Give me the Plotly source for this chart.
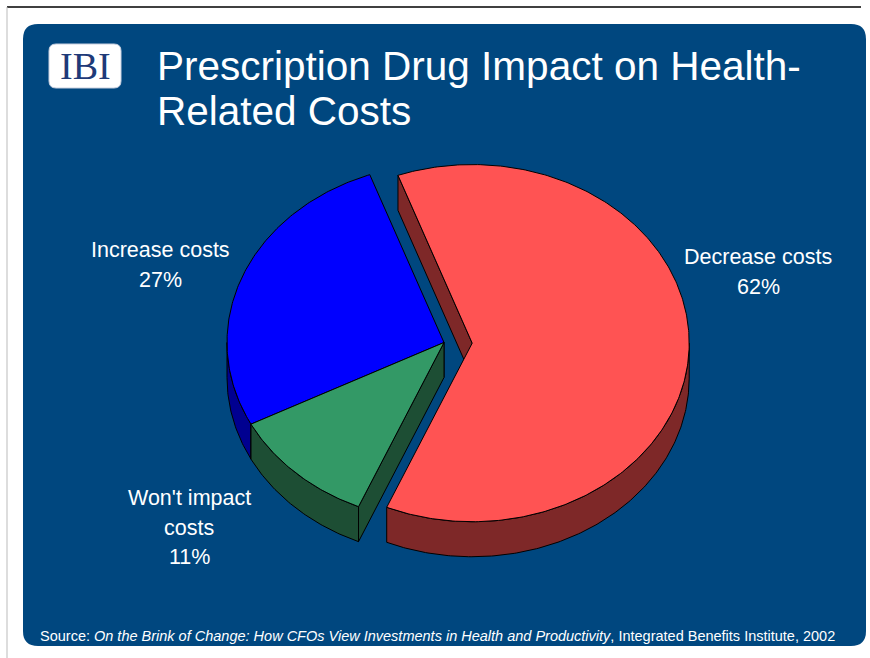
import numpy as np
import plotly.graph_objects as go

# ---- data ----
categories = ["Decrease costs", "Won't impact<br>costs", "Increase costs"]
values = [62, 11, 27]
pulls = [0.13, 0.0, 0.0]
top_colors = ["#FF5353", "#339966", "#0000FF"]
side_colors = ["#7E2828", "#1D4E34", "#000090"]
title_lines = ["Prescription Drug Impact on Health-", "Related Costs"]
source_regular = "Source: "
source_italic = "On the Brink of Change: How CFOs View Investments in Health and Productivity"
source_tail = ", Integrated Benefits Institute, 2002"

# ---- pie geometry (pixel space) ----
CX, CY = 444.0, 342.5
RX, RY = 217.0, 178.6
DEPTH = 35.0
START = 110.0

W, H = 870, 658
BG = "#00477F"

fig = go.Figure()


def pt(cx, cy, t, dy=0.0):
    r = np.radians(t)
    return cx + RX * np.cos(r), cy - RY * np.sin(r) + dy


def arc(cx, cy, a, b, dy=0.0, n=None):
    n = n or max(4, int(abs(b - a) * 1.5))
    ts = np.linspace(a, b, n)
    r = np.radians(ts)
    return list(cx + RX * np.cos(r)), list(cy - RY * np.sin(r) + dy)


def poly(xs, ys, color):
    fig.add_trace(go.Scatter(x=xs + [xs[0]], y=ys + [ys[0]], mode="lines",
                             fill="toself", fillcolor=color,
                             line=dict(color="black", width=1),
                             hoverinfo="skip", showlegend=False))


total = float(sum(values))
slices = []
cum = 0.0
for i, v in enumerate(values):
    t_start = START - cum / total * 360.0
    t_end = t_start - v / total * 360.0
    cum += v
    a, b = t_end, t_start  # ccw range
    mid = np.radians((a + b) / 2)
    cx = CX + pulls[i] * RX * np.cos(mid)
    cy = CY - pulls[i] * RY * np.sin(mid)
    slices.append((i, a, b, cx, cy))

# draw order: back to front
for i, a, b, cx, cy in [slices[2], slices[1], slices[0]]:
    # outer visible side (sin<0 region)
    for k in range(-2, 2):
        lo, hi = 180 + 360 * k, 360 + 360 * k
        s, e = max(a, lo), min(b, hi)
        if e > s:
            xt, yt = arc(cx, cy, s, e)
            xb, yb = arc(cx, cy, e, s, DEPTH)
            poly(xt + xb, yt + yb, side_colors[i])
    # radial faces
    for ang, vis in ((b, np.cos(np.radians(b)) < 0), (a, np.cos(np.radians(a)) > 0)):
        if vis:
            ex, ey = pt(cx, cy, ang)
            poly([cx, ex, ex, cx], [cy, ey, ey + DEPTH, cy + DEPTH], side_colors[i])
    # top surface
    xt, yt = arc(cx, cy, a, b)
    poly([cx] + xt, [cy] + yt, top_colors[i])

# ---- labels ----
label_pos = [(758, 257), (189, 498), (160, 250)]
annotations = []
LSP = 29.5
for i, (lx, ly) in enumerate(label_pos):
    lines = categories[i].split("<br>") + [f"{values[i]}%"]
    for j, ln in enumerate(lines):
        annotations.append(dict(x=lx, y=ly + j * LSP, xref="x", yref="y", text=ln,
                                showarrow=False, xanchor="center", yanchor="middle",
                                font=dict(family="Liberation Sans, Arial", size=21.5, color="white")))

# title
title_y = [66, 111]
for j, ln in enumerate(title_lines):
    annotations.append(dict(x=155, y=title_y[j], xref="x", yref="y", text=ln,
                            showarrow=False, xanchor="left", yanchor="middle",
                            font=dict(family="Liberation Sans, Arial", size=40.5, color="white")))

# logo text
annotations.append(dict(x=85, y=66, xref="x", yref="y", text="IBI", showarrow=False,
                        xanchor="center", yanchor="middle",
                        font=dict(family="Liberation Serif, Times New Roman", size=38, color="#1E3A78")))

# source
annotations.append(dict(x=437, y=636, xref="x", yref="y",
                        text=f"{source_regular}<i>{source_italic}</i>{source_tail}",
                        showarrow=False, xanchor="center", yanchor="middle",
                        font=dict(family="Liberation Sans, Arial", size=14.5, color="white")))


def rrect(x0, y0, x1, y1, r):
    return (f"M {x0+r},{y0} L {x1-r},{y0} Q {x1},{y0} {x1},{y0+r} L {x1},{y1-r} "
            f"Q {x1},{y1} {x1-r},{y1} L {x0+r},{y1} Q {x0},{y1} {x0},{y1-r} "
            f"L {x0},{y0+r} Q {x0},{y0} {x0+r},{y0} Z")


shapes = [
    dict(type="path", path=rrect(23, 24, 866, 646, 15), xref="x", yref="y",
         fillcolor=BG, line=dict(width=0), layer="below"),
    dict(type="line", x0=7, x1=861, y0=7, y1=7, xref="x", yref="y",
         line=dict(color="black", width=1.5), layer="below"),
    dict(type="line", x0=7, x1=7, y0=7, y1=658, xref="x", yref="y",
         line=dict(color="#BBBBBB", width=1), layer="below"),
    dict(type="path", path=rrect(49, 44, 121, 88, 7), xref="x", yref="y",
         fillcolor="white", line=dict(color="#C8D0E0", width=1), layer="below"),
]

fig.update_layout(
    width=W, height=H,
    margin=dict(l=0, r=0, t=0, b=0),
    paper_bgcolor="white", plot_bgcolor="rgba(0,0,0,0)",
    xaxis=dict(range=[0, W], visible=False, fixedrange=True),
    yaxis=dict(range=[H, 0], visible=False, fixedrange=True),
    shapes=shapes, annotations=annotations,
    showlegend=False,
)

fig.write_html("out.html", config={"displayModeBar": False},
               post_script="document.body.style.margin='0';document.body.style.overflow='hidden';")
